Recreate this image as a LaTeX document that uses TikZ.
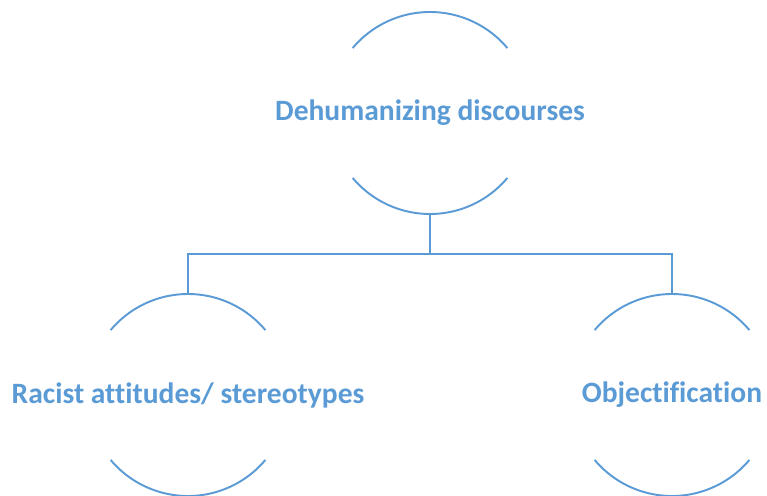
\documentclass[tikz,border=0pt]{standalone}
\usepackage{fontspec}
\setmainfont{Carlito}[Ligatures=NoCommon]
\usepackage{xcolor}
\usetikzlibrary{positioning}
\definecolor{officeblue}{HTML}{5B9BD5}
\newcommand{\nowidth}[1]{\makebox[0pt]{#1}}

\begin{document}
\begin{tikzpicture}[
        on grid,
        node distance=5.64cm and 4.84cm,
        topic/.style={circle, minimum size=4.04cm, inner sep=0pt, outer sep=0pt, text=officeblue, font=\bfseries\fontsize{16.8}{20}\selectfont},
        rim/.style={draw=officeblue, line width=1.1pt},
        link/.style={draw=officeblue, line width=1.5pt}
        ]
    \useasboundingbox (0,0) rectangle (15.34,-9.9);

        % Nodes
        \node[topic] (dh) at (8.6,-2.26) {\nowidth{Dehumanizing discourses}};
        \node[topic] (rac) [below left=of dh] {\nowidth{Racist attitudes/ stereotypes}};
        \node[topic] (obj) [below right=of dh] {\nowidth{Objectification}};

        % Arcs
        \foreach \n in {dh,rac,obj} {
            \draw[rim] (\n.140) arc[start angle=140, end angle=40, radius=2.02cm];
            \draw[rim] (\n.220) arc[start angle=220, end angle=320, radius=2.02cm];
        }

        % Edges
        \draw[link] (dh.south) -- ++(0,-0.8) coordinate (bus);
        \draw[link] (bus) -| (rac.north);
        \draw[link] (bus) -| (obj.north);

    \end{tikzpicture}
\end{document}
